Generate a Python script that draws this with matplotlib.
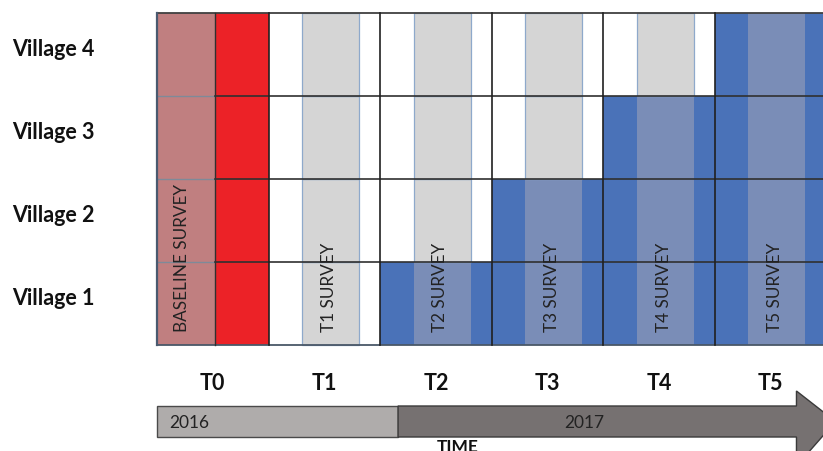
import matplotlib.pyplot as plt
from matplotlib.patches import Rectangle, Polygon

plt.rcParams['font.family'] = ['Lato', 'DejaVu Sans']

# stepped-wedge design: which period each village switches to intervention
villages = ['Village 1', 'Village 2', 'Village 3', 'Village 4']
periods = ['T0', 'T1', 'T2', 'T3', 'T4', 'T5']
start_period = [2, 3, 4, 5]
surveys = ['BASELINE SURVEY', 'T1 SURVEY', 'T2 SURVEY', 'T3 SURVEY', 'T4 SURVEY', 'T5 SURVEY']
years = ['2016', '2017']
year_start = [0.0, 2.16]

c_base = '#C07F80'
c_red = '#EC2227'
c_grey = '#D5D5D5'
c_blue = '#4A72B8'
c_sblue = '#7A8DB7'
c_edge = '#8EA9CB'

# pixel layout: one period ~111.6 px, one row ~83 px
pw, rh = 111.6, 83.0
fig = plt.figure(figsize=(8.23, 4.52), dpi=100)
ax = fig.add_axes([0, 0, 1, 1])
ax.set_xlim(-157 / pw, 666 / pw)
ax.set_ylim(-106 / rh, 346 / rh)
ax.axis('off')

pre, surv = 0.30, 0.51
for r, v in enumerate(villages):
    for p, t in enumerate(periods):
        if p == 0:
            ax.add_patch(Rectangle((0, r), 0.52, 1, facecolor=c_base, edgecolor='none'))
            ax.add_patch(Rectangle((0.52, r), 0.48, 1, facecolor=c_red, edgecolor='none'))
            continue
        on = p >= start_period[r]
        gap = c_blue if on else 'white'
        ax.add_patch(Rectangle((p, r), pre, 1, facecolor=gap, edgecolor='none'))
        ax.add_patch(Rectangle((p + pre + surv, r), 1 - pre - surv, 1, facecolor=gap, edgecolor='none'))
        ax.add_patch(Rectangle((p + pre, r), surv, 1,
                               facecolor=c_sblue if on else c_grey,
                               edgecolor='none' if on else c_edge, lw=0.9))
    ax.text(-1.30, r + 0.5 + 0.07, v, ha='left', va='center', fontsize=15.5, fontweight='bold', color='#111111')

# grid lines
xend = 666 / pw + 0.1
for r in range(1, len(villages)):
    ax.plot([0, 0.52], [r, r], color='#7E8A99', lw=1.0)
    ax.plot([0.52, xend], [r, r], color='#303030', lw=1.2)
ax.plot([0, xend], [len(villages)] * 2, color='#404040', lw=1.3)
ax.plot([0, xend], [0, 0], color='#4A5868', lw=1.3)
ax.plot([0.52, 0.52], [0, len(villages)], color='#303030', lw=1.0)
for p in range(1, len(periods)):
    ax.plot([p, p], [0, len(villages)], color='#202020', lw=1.2)
ax.plot([0, 0], [0, len(villages)], color='#4A5A70', lw=1.6)

# survey labels
for p, s in enumerate(surveys):
    x = 0.22 if p == 0 else p + 0.54
    ax.text(x, 14 / rh, s, rotation=90, ha='center', va='bottom', fontsize=12.3, color='#222222')

# period labels
for p, t in enumerate(periods):
    ax.text(p + 0.5, -37.5 / rh, t, ha='center', va='center', fontsize=15.5, fontweight='bold', color='#111111')

# time arrow
b_top, b_bot = -61 / rh, -92 / rh
h_top, h_bot = -46 / rh, -121 / rh
head_x, tip_x = 5.73, 6.08
ax.add_patch(Rectangle((year_start[0], b_bot), year_start[1] - year_start[0], b_top - b_bot,
                       facecolor='#AFACAB', edgecolor='#4A4A4A', lw=1.0))
ax.add_patch(Polygon([(year_start[1], b_top), (head_x, b_top), (head_x, h_top),
                      (tip_x, (b_top + b_bot) / 2), (head_x, h_bot), (head_x, b_bot),
                      (year_start[1], b_bot)],
                     closed=True, facecolor='#767171', edgecolor='#3A3A3A', lw=1.0))
ax.text(year_start[0] + 0.11, (b_top + b_bot) / 2, years[0], ha='left', va='center', fontsize=12.5, color='#222222')
ax.text((year_start[1] + 5.5) / 2, (b_top + b_bot) / 2, years[1], ha='center', va='center', fontsize=12.5, color='#222222')
ax.text(2.69, -92.5 / rh, 'TIME', ha='center', va='top', fontsize=12.5, fontweight='bold', color='#111111')

plt.savefig('out.png', dpi=100)
